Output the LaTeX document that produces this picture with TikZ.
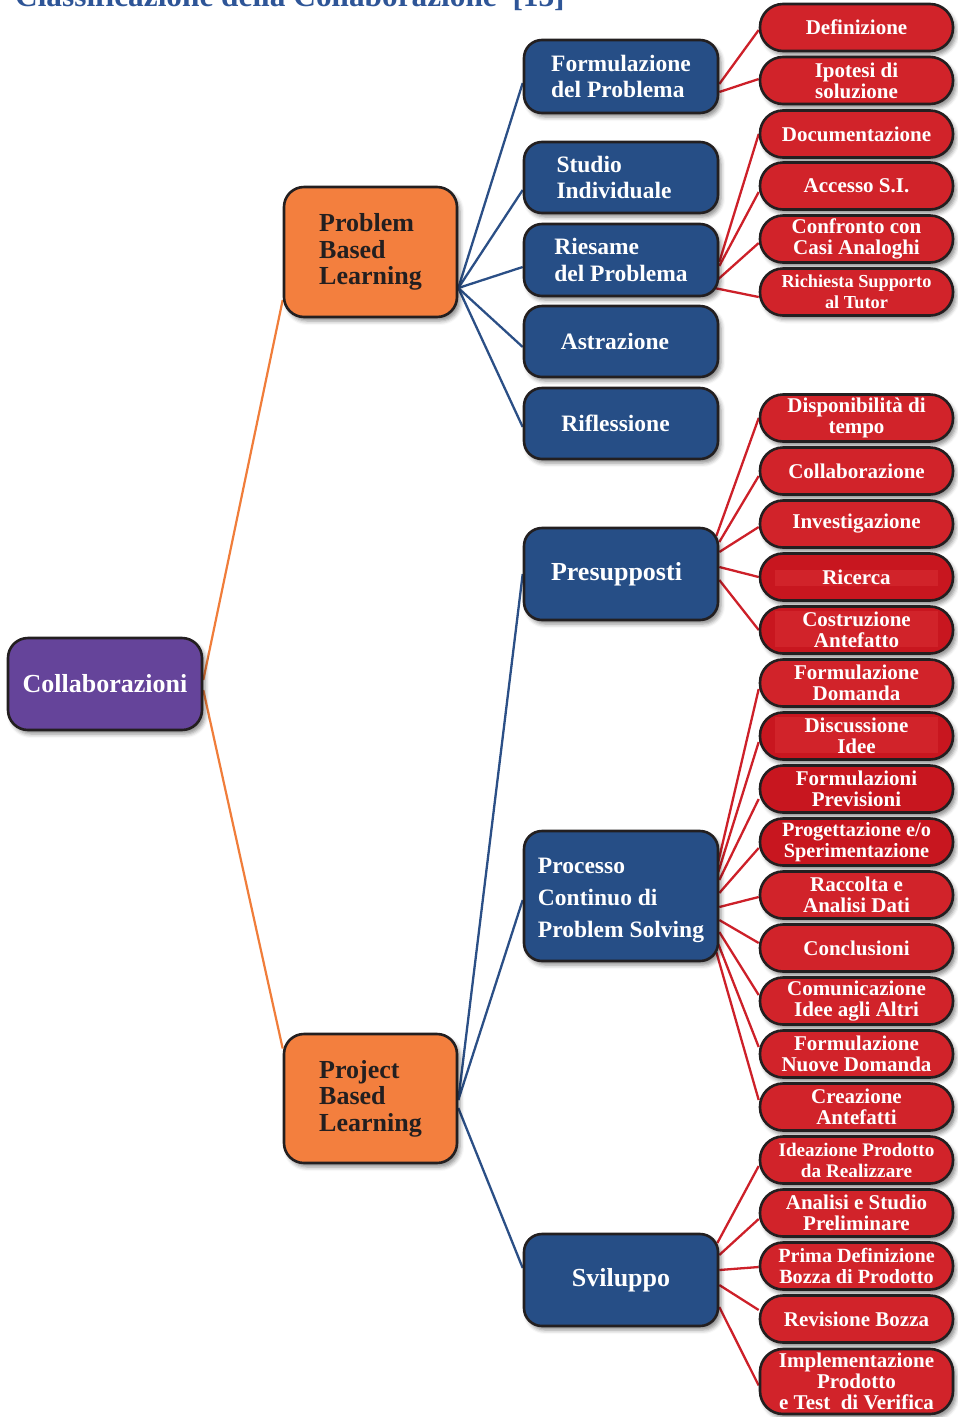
\documentclass[tikz,border=0pt]{standalone}
\usepackage{fontspec}
\setmainfont{Liberation Serif}
\usetikzlibrary{shadows.blur,backgrounds}

\definecolor{edge}{HTML}{231F20}
\definecolor{purp}{HTML}{65449A}
\definecolor{orng}{HTML}{F37F3E}
\definecolor{blu}{HTML}{264E86}
\definecolor{rd}{HTML}{D1232A}
\definecolor{rdd}{HTML}{C8161F}
\definecolor{titleblue}{HTML}{2E5597}
\definecolor{bl}{HTML}{2B4F86}
\definecolor{rl}{HTML}{CD2029}
\definecolor{ol}{HTML}{F07D3A}

\tikzset{
  box/.style={draw=edge, line width=2.6pt, inner sep=0pt,
    blur shadow={shadow xshift=3pt, shadow yshift=-4pt, shadow blur radius=4pt, shadow opacity=45}},
  rootbox/.style={box, fill=purp, rounded corners=20pt, minimum width=194pt, minimum height=92pt,
    text=white, font=\bfseries\fontsize{26}{28}\selectfont},
  methodbox/.style={box, fill=orng, rounded corners=20pt, minimum width=173pt, minimum height=130pt,
    text=edge, align=left, font=\bfseries\fontsize{26}{26.5}\selectfont},
  phasebox/.style={box, fill=blu, rounded corners=18pt, minimum width=194pt, minimum height=71pt,
    text=white, align=left, font=\bfseries\fontsize{23.5}{26.5}\selectfont},
  stepbox/.style={box, fill=rd, rounded corners=23pt, minimum width=193pt, minimum height=47pt,
    text=white, align=center, font=\bfseries\fontsize{21}{21}\selectfont},
  darkstep/.style={fill=rdd},
  bandstep/.style 2 args={fill=rdd, path picture={
    \fill[rd, sharp corners] ([shift={(15pt,-#1)}]path picture bounding box.north west)
      rectangle ([shift={(-15pt,#2)}]path picture bounding box.south east);}},
  oline/.style={draw=ol, line width=2.2pt},
  bline/.style={draw=bl, line width=2.3pt},
  rline/.style={draw=rl, line width=2.3pt},
}

\begin{document}
\begin{tikzpicture}[x=1pt,y=-1pt]
\useasboundingbox (0,0) rectangle (958,1417);

% heading, mostly above the page edge
\node[anchor=base west, inner sep=0pt, text=titleblue, font=\bfseries\fontsize{31.3}{31.3}\selectfont]
  (title) at (15,6) {Classificazione della Collaborazione\ \ [13]};

% root and methods
\node[rootbox] (col) at (105,684) {Collaborazioni};
\node[methodbox] (pbl) at (370.5,252) {Problem\\Based\\Learning};
\node[methodbox, minimum height=129pt] (prj) at (370.5,1098.5) {Project\\Based\\Learning};

% phases
\node[phasebox, minimum height=73pt] (fp) at (621,76.5) {Formulazione\\del Problema};
\node[phasebox] (si) at (621,177.5) {Studio\\Individuale\hspace*{14pt}};
\node[phasebox, minimum height=72pt] (rp) at (621,260) {Riesame\\del Problema};
\node[phasebox] (as) at (621,341.5) {Astrazione\hspace*{12pt}};
\node[phasebox] (rf) at (621,423.5) {Riflessione\hspace*{11pt}};
\node[phasebox, minimum height=92pt, font=\bfseries\fontsize{26}{28}\selectfont] (pr) at (621,574) {Presupposti\hspace*{9pt}};
\node[phasebox, minimum height=130pt, font=\bfseries\fontsize{23.5}{32}\selectfont, text height=83pt, text depth=0pt] (pc) at (621,896) {Processo\\Continuo di\\Problem Solving};
\node[phasebox, minimum height=92pt, font=\bfseries\fontsize{26}{28}\selectfont] (sv) at (621,1280) {Sviluppo};

% steps
\node[stepbox] (r1) at (856.5,27.5) {Definizione};
\node[stepbox] (r2) at (856.5,80.5) {Ipotesi di\\soluzione};
\node[stepbox] (r3) at (856.5,134) {Documentazione};
\node[stepbox] (r4) at (856.5,186) {Accesso S.I.};
\node[stepbox] (r5) at (856.5,239) {Confronto con\\Casi Analoghi};
\node[stepbox, font=\bfseries\fontsize{18.3}{21}\selectfont] (r6) at (856.5,292) {Richiesta Supporto\\al Tutor};

\node[stepbox] (r7) at (856.5,418) {Disponibilità di\\tempo};
\node[stepbox] (r8) at (856.5,471) {Collaborazione};
\node[stepbox] (r9) at (856.5,524) {Investigazione};
\node[stepbox, bandstep={16pt}{15pt}] (r10) at (856.5,577) {Ricerca};
\node[stepbox, bandstep={4pt}{7pt}] (r11) at (856.5,630) {Costruzione\\Antefatto};
\node[stepbox] (r12) at (856.5,683) {Formulazione\\Domanda};
\node[stepbox, bandstep={4pt}{7pt}] (r13) at (856.5,736) {Discussione\\Idee};
\node[stepbox, darkstep] (r14) at (856.5,789) {Formulazioni\\Previsioni};
\node[stepbox, darkstep, font=\bfseries\fontsize{20.3}{21}\selectfont] (r15) at (856.5,842) {Progettazione e/o\\Sperimentazione};
\node[stepbox] (r16) at (856.5,895) {Raccolta e\\Analisi Dati};
\node[stepbox] (r17) at (856.5,948) {Conclusioni};
\node[stepbox] (r18) at (856.5,1001) {Comunicazione\\Idee agli Altri};
\node[stepbox] (r19) at (856.5,1054) {Formulazione\\Nuove Domanda};
\node[stepbox] (r20) at (856.5,1107) {Creazione\\Antefatti};

\node[stepbox, font=\bfseries\fontsize{19.2}{21}\selectfont] (r21) at (856.5,1160) {Ideazione Prodotto\\da Realizzare};
\node[stepbox] (r22) at (856.5,1213) {Analisi e Studio\\Preliminare};
\node[stepbox, font=\bfseries\fontsize{20.2}{21}\selectfont] (r23) at (856.5,1266) {Prima Definizione\\Bozza di Prodotto};
\node[stepbox] (r24) at (856.5,1319) {Revisione Bozza};
\node[stepbox, minimum height=65pt] (r25) at (856.5,1381.5) {Implementazione\\Prodotto\\e Test\ \ di Verifica};

% connectors
\begin{scope}[on background layer]
  \draw[oline] ([yshift=4pt]col.east) -- ([yshift=-48pt]pbl.west);
  \draw[oline] ([yshift=-6pt]col.east) -- ([yshift=50pt]prj.west);

  \foreach \n/\s in {fp/-6.5, si/-12.5, rp/-7, as/-5.5, rf/-3.5}
    \draw[bline] ([yshift=-36pt]pbl.east) -- ([yshift=\s pt]\n.west);
  \draw[bline] ([yshift=-1.5pt]prj.east) -- (pr.west);
  \draw[bline] ([yshift=-1.5pt]prj.east) -- ([yshift=-4pt]pc.west);
  \draw[bline] ([yshift=-9.5pt]prj.east) -- ([yshift=12pt]sv.west);

  \draw[rline] ([yshift=-7.5pt]fp.east) -- ([yshift=-2.5pt]r1.west);
  \draw[rline] ([yshift=-15.5pt]fp.east) -- ([yshift=1.5pt]r2.west);

  \draw[rline] ([yshift=-2pt]rp.east) -- (r3.west);
  \draw[rline] ([yshift=-6pt]rp.east) -- ([yshift=-6pt]r4.west);
  \draw[rline] ([shift={(-2pt,-20pt)}]rp.east) -- ([yshift=-4pt]r5.west);
  \draw[rline] ([shift={(-5pt,-28pt)}]rp.east) -- ([yshift=-5pt]r6.west);

  \draw[rline] ([shift={(-3pt,38pt)}]pr.east) -- (r7.west);
  \draw[rline] ([shift={(0pt,32pt)}]pr.east) -- ([yshift=-5pt]r8.west);
  \draw[rline] ([yshift=22pt]pr.east) -- ([yshift=-3pt]r9.west);
  \draw[rline] ([yshift=7pt]pr.east) -- (r10.west);
  \draw[rline] ([yshift=-6pt]pr.east) -- (r11.west);

  \draw[rline] ([shift={(-2pt,30pt)}]pc.east) -- ([yshift=-6pt]r12.west);
  \draw[rline] ([shift={(-1pt,24pt)}]pc.east) -- ([yshift=-6pt]r13.west);
  \draw[rline] ([yshift=16pt]pc.east) -- ([yshift=-10pt]r14.west);
  \draw[rline] ([yshift=3pt]pc.east) -- ([yshift=-6pt]r15.west);
  \draw[rline] ([yshift=-11pt]pc.east) -- ([yshift=-2pt]r16.west);
  \draw[rline] ([yshift=-24pt]pc.east) -- ([yshift=5pt]r17.west);
  \draw[rline] ([yshift=-36pt]pc.east) -- ([yshift=6pt]r18.west);
  \draw[rline] ([shift={(-1pt,-48pt)}]pc.east) -- ([yshift=7pt]r19.west);
  \draw[rline] ([shift={(-3pt,-56pt)}]pc.east) -- ([yshift=7pt]r20.west);

  \draw[rline] ([shift={(-2pt,37pt)}]sv.east) -- ([yshift=-6pt]r21.west);
  \draw[rline] ([yshift=25pt]sv.east) -- ([yshift=-6pt]r22.west);
  \draw[rline] ([yshift=10pt]sv.east) -- ([yshift=-1pt]r23.west);
  \draw[rline] ([yshift=-5pt]sv.east) -- ([yshift=9pt]r24.west);
  \draw[rline] ([yshift=-27pt]sv.east) -- ([yshift=-4pt]r25.west);
\end{scope}
\end{tikzpicture}
\end{document}
